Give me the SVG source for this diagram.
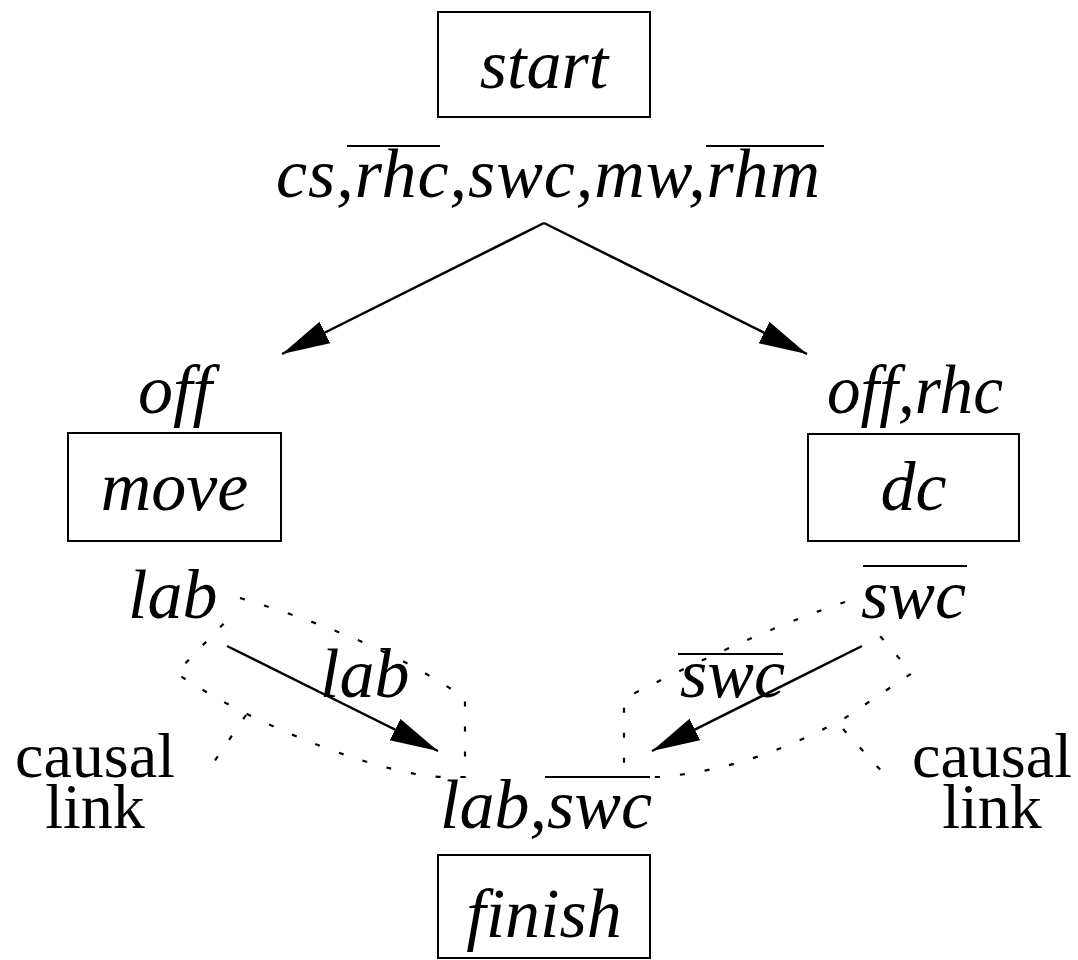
<svg xmlns="http://www.w3.org/2000/svg" width="1078" height="960" viewBox="0 0 1078 960">
<style>
.box{fill:#fff;stroke:#000;stroke-width:2}
.it{font-family:"Liberation Serif","Times New Roman",serif;font-style:italic;font-size:70px;fill:#000}
.rm{font-family:"Liberation Serif","Times New Roman",serif;font-size:64px;fill:#000;text-anchor:middle}
.bar{stroke:#000;stroke-width:2.2}
.edge{stroke:#000;stroke-width:2.5;fill:none;marker-end:url(#ah)}
.dot{stroke:#000;stroke-width:2.2;fill:none;stroke-dasharray:5 20}
</style>
<defs>
<marker id="ah" markerUnits="userSpaceOnUse" markerWidth="60" markerHeight="40" refX="48" refY="12" orient="auto" viewBox="0 0 60 40">
<path d="M0,0 L48,12 L0,24 z" fill="#000"/>
</marker>
</defs>
<rect width="1078" height="960" fill="#fff"/>
<g id="connectors">
<line class="edge" x1="544" y1="223" x2="282" y2="354"/>
<line class="edge" x1="544" y1="223" x2="807" y2="354"/>
<line class="edge" x1="227" y1="646" x2="438" y2="751"/>
<line class="edge" x1="862" y1="646" x2="652" y2="751"/>
<path class="dot" d="M240,598 Q380,640 460,695 L465,700 L465,777 L445,777 C390,777 260,730 176,673 L230,617"/>
<path class="dot" d="M246,715 L205,775"/>
<path class="dot" d="M845,602 Q760,630 631,695 L624,700 L624,777 L660,777 C740,770 800,742 845,718 L912,673 L880,636"/>
<path class="dot" d="M843,729 L886,776"/>
</g>
<g id="start">
<rect class="box" x="438" y="12" width="212" height="105"/>
<text class="it" x="544" y="88" text-anchor="middle">start</text>
</g>
<g id="start-effects">
<text class="it" x="276" y="197" textLength="544" lengthAdjust="spacing">cs,rhc,swc,mw,rhm</text>
<line class="bar" x1="347" y1="146" x2="440" y2="146"/>
<line class="bar" x1="706" y1="146" x2="824" y2="146"/>
</g>
<g id="move">
<text class="it" x="138" y="413">off</text>
<rect class="box" x="68" y="433" width="213" height="108"/>
<text class="it" x="174.5" y="510" text-anchor="middle">move</text>
<text class="it" x="128" y="618">lab</text>
</g>
<g id="dc">
<text class="it" x="827" y="413" textLength="176" lengthAdjust="spacingAndGlyphs">off,rhc</text>
<rect class="box" x="808" y="434" width="211" height="107"/>
<text class="it" x="913.5" y="510" text-anchor="middle">dc</text>
<text class="it" x="861" y="618">swc</text>
<line class="bar" x1="863" y1="566" x2="967" y2="566"/>
</g>
<g id="link-labels">
<text class="it" x="320" y="697">lab</text>
<text class="it" x="680" y="697">swc</text>
<line class="bar" x1="678" y1="654" x2="783" y2="654"/>
<text class="rm"><tspan x="95" y="777">causal</tspan><tspan x="95" y="828">link</tspan></text>
<text class="rm"><tspan x="992" y="777">causal</tspan><tspan x="992" y="828">link</tspan></text>
</g>
<g id="finish">
<text class="it" x="440" y="828">lab,swc</text>
<line class="bar" x1="545" y1="777" x2="650" y2="777"/>
<rect class="box" x="438" y="855" width="212" height="103"/>
<text class="it" x="544" y="937" text-anchor="middle">finish</text>
</g>
</svg>
